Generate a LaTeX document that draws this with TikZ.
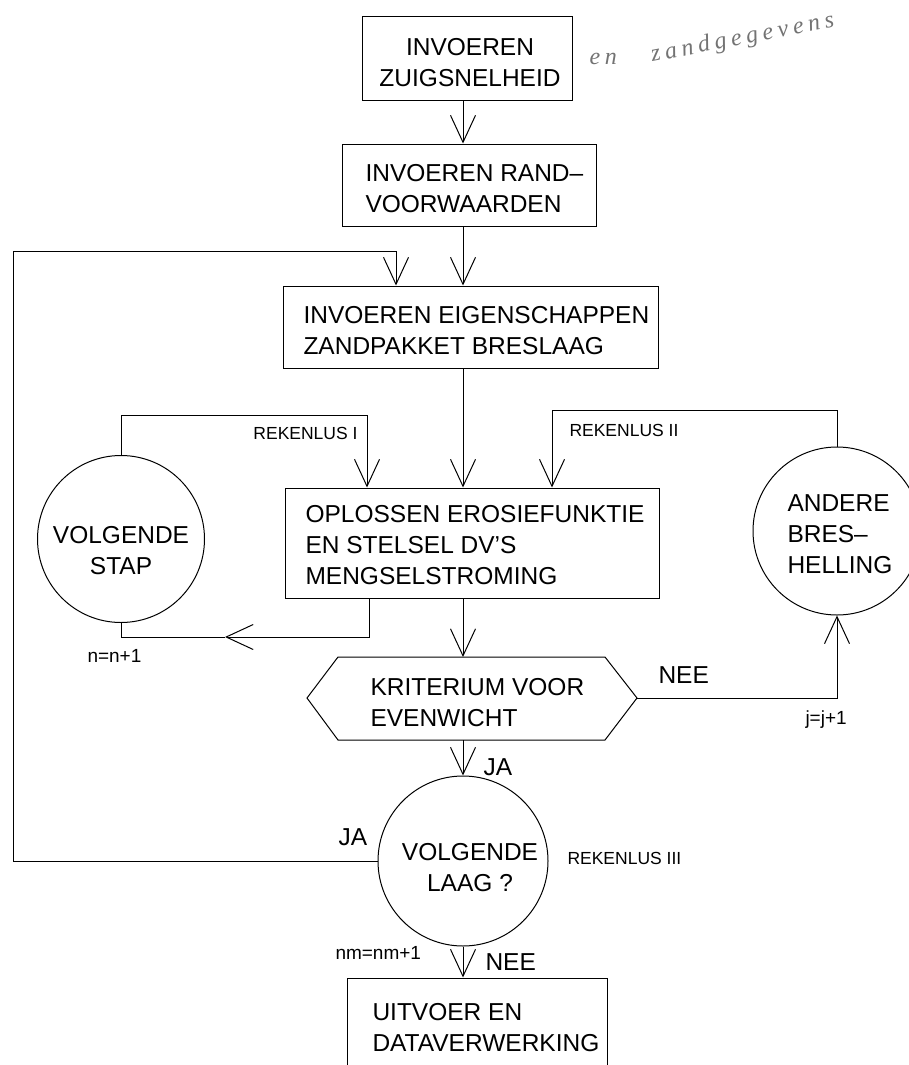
\documentclass[tikz,border=0pt]{standalone}
\usepackage{fontspec}
\setmainfont{Liberation Sans}
\newfontfamily\handfont[LetterSpace=20]{Liberation Serif}
\usetikzlibrary{arrows.meta}
\begin{document}
\begin{tikzpicture}[x=1pt,y=-1pt,
  line width=1pt,
  box/.style={draw, rectangle, inner sep=0pt},
  ring/.style={draw, circle, inner sep=0pt},
  big/.style={font=\fontsize{24.5}{31}\selectfont, inner sep=0pt, align=left},
  small/.style={font=\fontsize{17.5}{20}\selectfont, inner sep=0pt},
  tiny/.style={font=\fontsize{19}{22}\selectfont, inner sep=0pt},
  hand/.style={font=\handfont\itshape\fontsize{24}{26}\selectfont, text=black!55, inner sep=0pt},
  arr/.style={-{Straight Barb[length=27pt,width=25pt]}}
]
\useasboundingbox (0,0) rectangle (909,1065);
\clip (0,0) rectangle (909,1065);

% coordinates
\coordinate (m) at (463,0);
\coordinate (L) at (13,251);
\coordinate (la) at (396,0);
\coordinate (r1) at (367,415);
\coordinate (r2) at (552,410);
\coordinate (k) at (369,637);
\coordinate (kt) at (225,637);
\coordinate (hW) at (307,698);
\coordinate (hNW) at (338,657);
\coordinate (hNE) at (605,657);
\coordinate (hE) at (637,698);
\coordinate (hSE) at (605,740);
\coordinate (hSW) at (338,740);
\coordinate (hN) at (463,657);
\coordinate (hS) at (463,740);

% boxes
\node[box, minimum width=210pt, minimum height=83pt] (b1) at (467,58.5) {};
\node[box, minimum width=254pt, minimum height=82pt] (b2) at (469,185) {};
\node[box, minimum width=375pt, minimum height=82pt] (b3) at (470.5,327) {};
\node[box, minimum width=374pt, minimum height=110pt] (b4) at (472,543) {};
\node[box, minimum width=260pt, minimum height=112pt] (b5) at (477,1034) {};
\draw (hW) -- (hNW) -- (hNE) -- (hE) -- (hSE) -- (hSW) -- cycle;

% circles
\node[ring, minimum size=167pt] (c1) at (121,539) {};
\node[ring, minimum size=168pt] (c2) at (837,531) {};
\node[ring, minimum size=170pt] (c3) at (463,861) {};

% texts
\node[big, align=center, anchor=north] at (470,38.2) {INVOEREN\\ZUIGSNELHEID};
\node[big, anchor=north west] at (365,164.2) {INVOEREN RAND–\\VOORWAARDEN};
\node[big, anchor=north west] at (303,306.2) {INVOEREN EIGENSCHAPPEN\\ZANDPAKKET BRESLAAG};
\node[big, anchor=north west] at (305,505.2) {OPLOSSEN EROSIEFUNKTIE\\EN STELSEL DV'S\\MENGSELSTROMING};
\node[big, anchor=north west] at (370,678.2) {KRITERIUM VOOR\\EVENWICHT};
\node[big, anchor=north west] at (372,1003.2) {UITVOER EN\\DATAVERWERKING};
\node[big, align=center, anchor=north] at (121,526.2) {VOLGENDE\\STAP};
\node[big, anchor=north west] at (787,494.2) {ANDERE\\BRES–\\HELLING};
\node[big, align=center, anchor=north] at (470,843.2) {VOLGENDE\\LAAG ?};

\node[small, anchor=east] at (358,433) {REKENLUS I};
\node[small, anchor=west] at (569,430) {REKENLUS II};
\node[small, anchor=west] at (567,858) {REKENLUS III};
\node[tiny, anchor=base west] at (87,662) {n=n+1};
\node[tiny, anchor=base west] at (805,724) {j=j+1};
\node[tiny, anchor=base west] at (335,959) {nm=nm+1};

\node[big, anchor=west] at (658,675) {NEE};
\node[big, anchor=west] at (483,767) {JA};
\node[big, anchor=west] at (338,837) {JA};
\node[big, anchor=west] at (485,962) {NEE};

\node[hand, anchor=base west] at (589,64) {en};
\node[hand, anchor=base west, rotate=11] at (652,62) {zandgegevens};

% connectors
\draw[arr] (b1.south -| m) -- (b2.north -| m);
\draw[arr] (b2.south -| m) -- (b3.north -| m);
\draw[arr] (c3.west) -| (L) -| (b3.north -| la);
\draw[arr] (b3.south -| m) -- (b4.north -| m);
\draw[arr] (c1.north) |- (r1) -- (b4.north -| r1);
\draw[arr] (c2.north) |- (r2) -- (b4.north -| r2);
\draw[arr] (b4.south -| k) -- (k) -- (kt);
\draw (kt) -| (c1.south);
\draw[arr] (b4.south -| m) -- (hN);
\draw[arr] (hE) -| (c2.south);
\draw[arr] (hS) -- (c3.north);
\draw[arr] (c3.south) -- (b5.north -| m);
\end{tikzpicture}
\end{document}
